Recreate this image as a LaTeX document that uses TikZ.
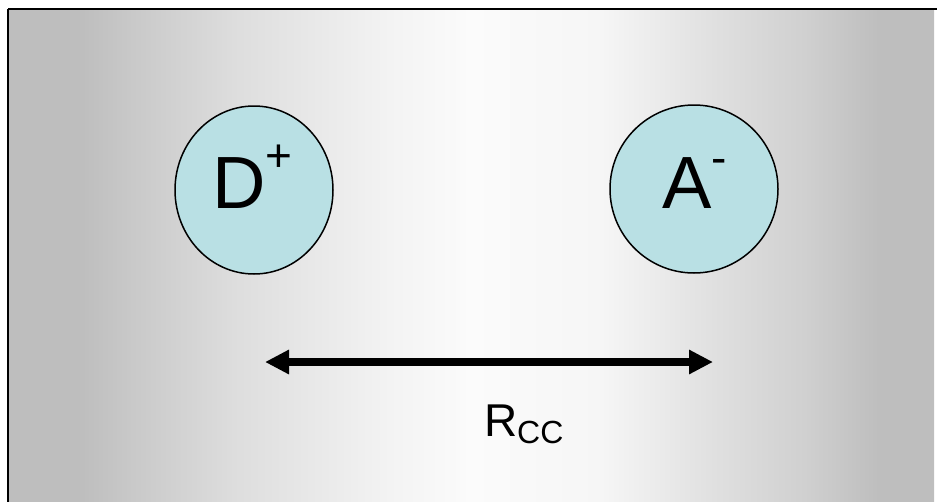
\documentclass[tikz,border=0pt]{standalone}
\usepackage{fontspec}
\setmainfont{Liberation Sans}
\usetikzlibrary{arrows.meta,shapes.geometric}
\definecolor{edgegray}{RGB}{190,190,190}
\definecolor{ionfill}{RGB}{185,224,228}
\definecolor{gA}{RGB}{202,202,202}
\definecolor{gB}{RGB}{222,222,222}
\definecolor{gC}{RGB}{244,244,244}
\definecolor{gD}{RGB}{251,251,251}
\definecolor{gE}{RGB}{246,246,246}
\definecolor{gF}{RGB}{226,226,226}
\definecolor{gG}{RGB}{208,208,208}
\pgfdeclarehorizontalshading{bgshade}{100bp}{%
  color(0bp)=(edgegray); color(25bp)=(edgegray); color(29bp)=(edgegray);
  color(32bp)=(gA); color(37.5bp)=(gB); color(46bp)=(gC); color(50bp)=(gD);
  color(57bp)=(gE); color(62.5bp)=(gF); color(68bp)=(gG); color(72bp)=(edgegray);
  color(75bp)=(edgegray); color(100bp)=(edgegray)}
\newcommand{\bigf}{\fontsize{74}{74}\selectfont}
\newcommand{\supf}{\fontsize{46}{46}\selectfont}
\newcommand{\labf}{\fontsize{46}{46}\selectfont}
\newcommand{\subf}{\fontsize{32}{32}\selectfont}
\tikzset{
  ion/.style={ellipse, draw=black, line width=1.5pt, fill=ionfill, inner sep=0pt},
  lbl/.style={anchor=base west, inner sep=0pt, outer sep=0pt, text=black},
  dblarrow/.style={line width=8pt, {Triangle[length=24pt,width=23pt]}-{Triangle[length=24pt,width=23pt]}}
}
\begin{document}
\begin{tikzpicture}[x=1pt,y=-1pt]
  \useasboundingbox (0,0) rectangle (937,501);
  \clip (0,0) rectangle (937,501);
  \shade[shading=bgshade] (8,9) rectangle (934,510);
  \draw[line width=2pt, black] (8,9) -- (945,9);
  \draw[line width=2pt, black] (8,9) -- (8,510);
  \node[ion, minimum width=158pt, minimum height=168pt] (D) at (254,190) {};
  \node[ion, minimum width=168pt, minimum height=168pt] (A) at (694,189) {};
  \node[lbl] (Dl) at (212,208) {\bigf D\raisebox{37pt}{\supf +}};
  \node[lbl] (Al) at (662,208) {\bigf A\raisebox{35pt}{\supf -}};
  \coordinate (aL) at (265,362);
  \coordinate (aR) at (713,362);
  \draw[dblarrow] (aL) -- (aR);
  \node[lbl] (R) at (484,436) {\labf R\raisebox{-7pt}{\subf CC}};
\end{tikzpicture}
\end{document}
